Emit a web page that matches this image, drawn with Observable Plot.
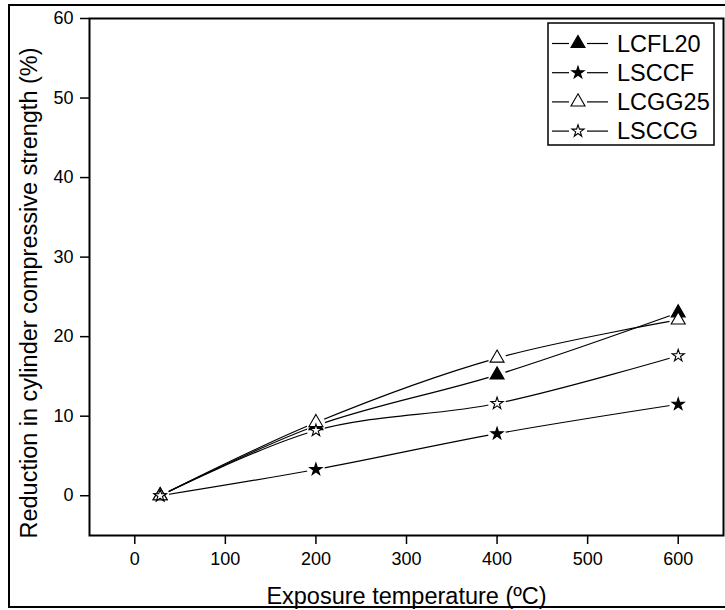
<!DOCTYPE html>
<html><head><meta charset="utf-8">
<script src="https://cdn.jsdelivr.net/npm/d3@7"></script>
<script src="https://cdn.jsdelivr.net/npm/@observablehq/plot@0.6"></script>
<style>
body{margin:0;background:#fff;}
#wrap{position:relative;width:725px;height:610px;overflow:hidden;background:#fff;}
#border{position:absolute;left:8px;top:4px;width:760px;height:604px;border:2px solid #000;box-sizing:border-box;pointer-events:none}
</style></head><body><div id="wrap"><div id="chart"></div><div id="border"></div></div>
<script>
const temps = [28, 200, 400, 600];
const seriesNames = ["LCFL20", "LSCCF", "LCGG25", "LSCCG"];
const LCFL20 = [0, 8.8, 15.2, 23.0];
const LSCCF = [0, 3.3, 7.8, 11.5];
const LCGG25 = [0, 9.2, 17.3, 22.1];
const LSCCG = [0, 8.2, 11.6, 17.6];
const xTicks = [0, 100, 200, 300, 400, 500, 600];
const yTicks = [0, 10, 20, 30, 40, 50, 60];
const xLabel = "Exposure temperature (ºC)";
const yLabel = "Reduction in cylinder compressive strength (%)";

const valuesBySeries = {LCFL20, LSCCF, LCGG25, LSCCG};
const symbolOf = {LCFL20: "triangle", LSCCF: "star", LCGG25: "triangle", LSCCG: "star"};
const fillOf = {LCFL20: "black", LSCCF: "black", LCGG25: "white", LSCCG: "white"};
const rOf = {triangle: 5.2, star: 3.8};

const data = seriesNames.flatMap(s => temps.map((t, i) => ({series: s, temp: t, value: valuesBySeries[s][i]})));

const font = "'Liberation Sans', Arial, Helvetica, sans-serif";

const marks = [
  Plot.line(data, {x: "temp", y: "value", z: "series", curve: "catmull-rom", stroke: "black", strokeWidth: 1.2}),
  Plot.dot(data, {x: "temp", y: "value", r: 9, fill: "white", stroke: null}),
  ...seriesNames.map(s => Plot.dot(data.filter(d => d.series === s), {
    x: "temp", y: "value", symbol: symbolOf[s], r: rOf[symbolOf[s]],
    fill: fillOf[s], stroke: "black", strokeWidth: 1.1
  })),
  Plot.axisX(xTicks, {tickSize: 9, tickPadding: 8, strokeWidth: 1.5, fontSize: 18, label: null}),
  Plot.axisY(yTicks, {tickSize: 9, tickPadding: 7, strokeWidth: 1.5, fontSize: 18, label: null}),
  Plot.frame({stroke: "black", strokeWidth: 2}),
  Plot.text([xLabel], {frameAnchor: "bottom", dy: 61, textAnchor: "middle", lineAnchor: "middle", fontSize: 23.5, fill: "black"}),
  Plot.text([yLabel], {frameAnchor: "left", dx: -60, dy: 16, rotate: -90, textAnchor: "middle", lineAnchor: "middle", fontSize: 23.5, fill: "black"})
];

const chart = Plot.plot({
  width: 725,
  height: 610,
  marginLeft: 89,
  marginRight: 2,
  marginTop: 18,
  marginBottom: 75,
  x: {domain: [-50, 650]},
  y: {domain: [-5, 60]},
  style: {fontFamily: font, fontSize: "18px", color: "black", background: "white", overflow: "visible"},
  marks
});
document.getElementById("chart").appendChild(chart);

// legend
const svg = d3.select(chart);
const lg = svg.append("g").attr("font-family", font).attr("text-anchor", "start");
lg.append("rect").attr("x", 548).attr("y", 23).attr("width", 166).attr("height", 122)
  .attr("fill", "white").attr("stroke", "black").attr("stroke-width", 1.5);
const symMap = {triangle: d3.symbolTriangle, star: d3.symbolStar};
seriesNames.forEach((s, i) => {
  const cy = 43.5 + i * 29.2;
  lg.append("line").attr("x1", 552).attr("x2", 569).attr("y1", cy).attr("y2", cy).attr("stroke", "black").attr("stroke-width", 1.2);
  lg.append("line").attr("x1", 587).attr("x2", 608).attr("y1", cy).attr("y2", cy).attr("stroke", "black").attr("stroke-width", 1.2);
  const r = rOf[symbolOf[s]];
  lg.append("path").attr("d", d3.symbol(symMap[symbolOf[s]], Math.PI * r * r)())
    .attr("transform", `translate(578,${cy})`)
    .attr("fill", fillOf[s]).attr("stroke", "black").attr("stroke-width", 1.1);
  lg.append("text").attr("x", 617).attr("y", cy).attr("dy", "0.35em")
    .attr("text-anchor", "start")
    .attr("font-size", 23.5).attr("fill", "black").text(s);
});
</script></body></html>
